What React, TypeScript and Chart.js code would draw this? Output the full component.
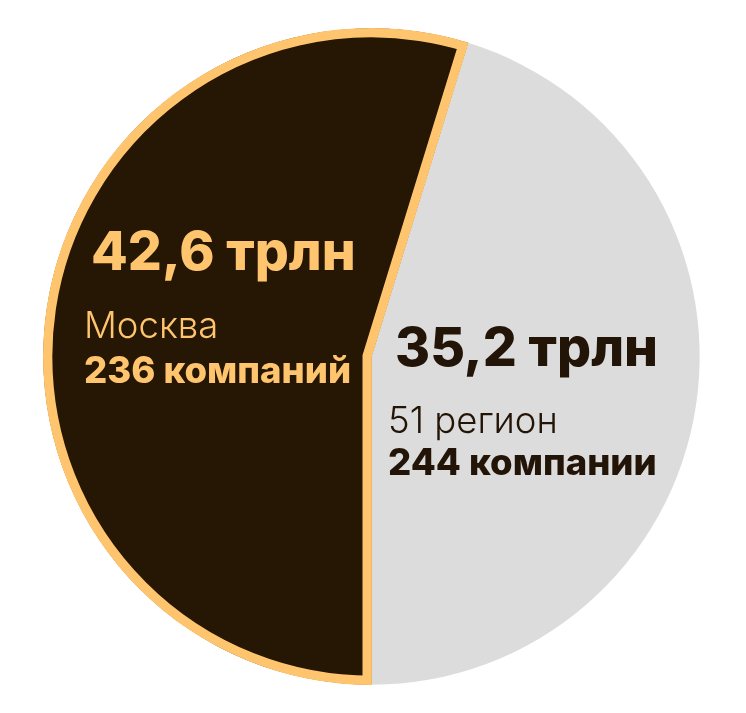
import React, { useEffect, useRef } from "react";
import { Chart, registerables } from "chart.js";

Chart.register(...registerables);

const categories = ["51 регион", "Москва"];
const values = [35.2, 42.6];
const valueLabels = ["35,2 трлн", "42,6 трлн"];
const companyLabels = ["244 компании", "236 компаний"];
const colors = ["#DCDCDC", "#261604"];
const textColors = ["#221406", "#FFC46E"];
const borderColor = "#FFC46E";

const total = values.reduce((a, b) => a + b, 0);
const rotation = 180 - (360 * values[0]) / total;

const labelPos = [
  { x: 388, big: 366, name: 433, count: 475, bigX: 395 },
  { x: 84, big: 270, name: 338, count: 383, bigX: 91 },
];

const FONT = "Inter, Roboto, sans-serif";

const labelsPlugin = {
  id: "sliceLabels",
  afterDraw(chart: any) {
    const ctx = chart.ctx;
    ctx.save();
    ctx.textBaseline = "alphabetic";
    ctx.textAlign = "left";
    for (let i = 0; i < categories.length; i++) {
      const p = labelPos[i];
      ctx.fillStyle = textColors[i];
      ctx.font = `800 53.5px ${FONT}`;
      ctx.fillText(valueLabels[i], p.bigX, p.big);
      ctx.font = `300 36.5px ${FONT}`;
      ctx.fillText(categories[i], p.x, p.name);
      ctx.font = `800 36.5px ${FONT}`;
      ctx.fillText(companyLabels[i], p.x, p.count);
    }
    ctx.restore();
  },
};

export default function App() {
  const ref = useRef<HTMLCanvasElement>(null);
  useEffect(() => {
    const chart = new Chart(ref.current!, {
      type: "pie",
      data: {
        labels: categories,
        datasets: [
          {
            data: values,
            backgroundColor: colors,
            borderColor: ["rgba(0,0,0,0)", borderColor],
            borderWidth: [0, 9],
            borderAlign: "inner",
            borderJoinStyle: "miter",
          } as any,
        ],
      },
      options: {
        animation: false,
        responsive: false,
        rotation,
        layout: { padding: { left: 43, right: 46, top: 28, bottom: 28 } },
        plugins: { legend: { display: false }, tooltip: { enabled: false } },
      },
      plugins: [labelsPlugin],
    });
    return () => chart.destroy();
  }, []);
  return (
    <div style={{ position: "fixed", left: 0, top: 0, width: 746, height: 713, background: "#fff" }}>
      <canvas ref={ref} width={746} height={713} style={{ width: 746, height: 713 }} />
    </div>
  );
}
